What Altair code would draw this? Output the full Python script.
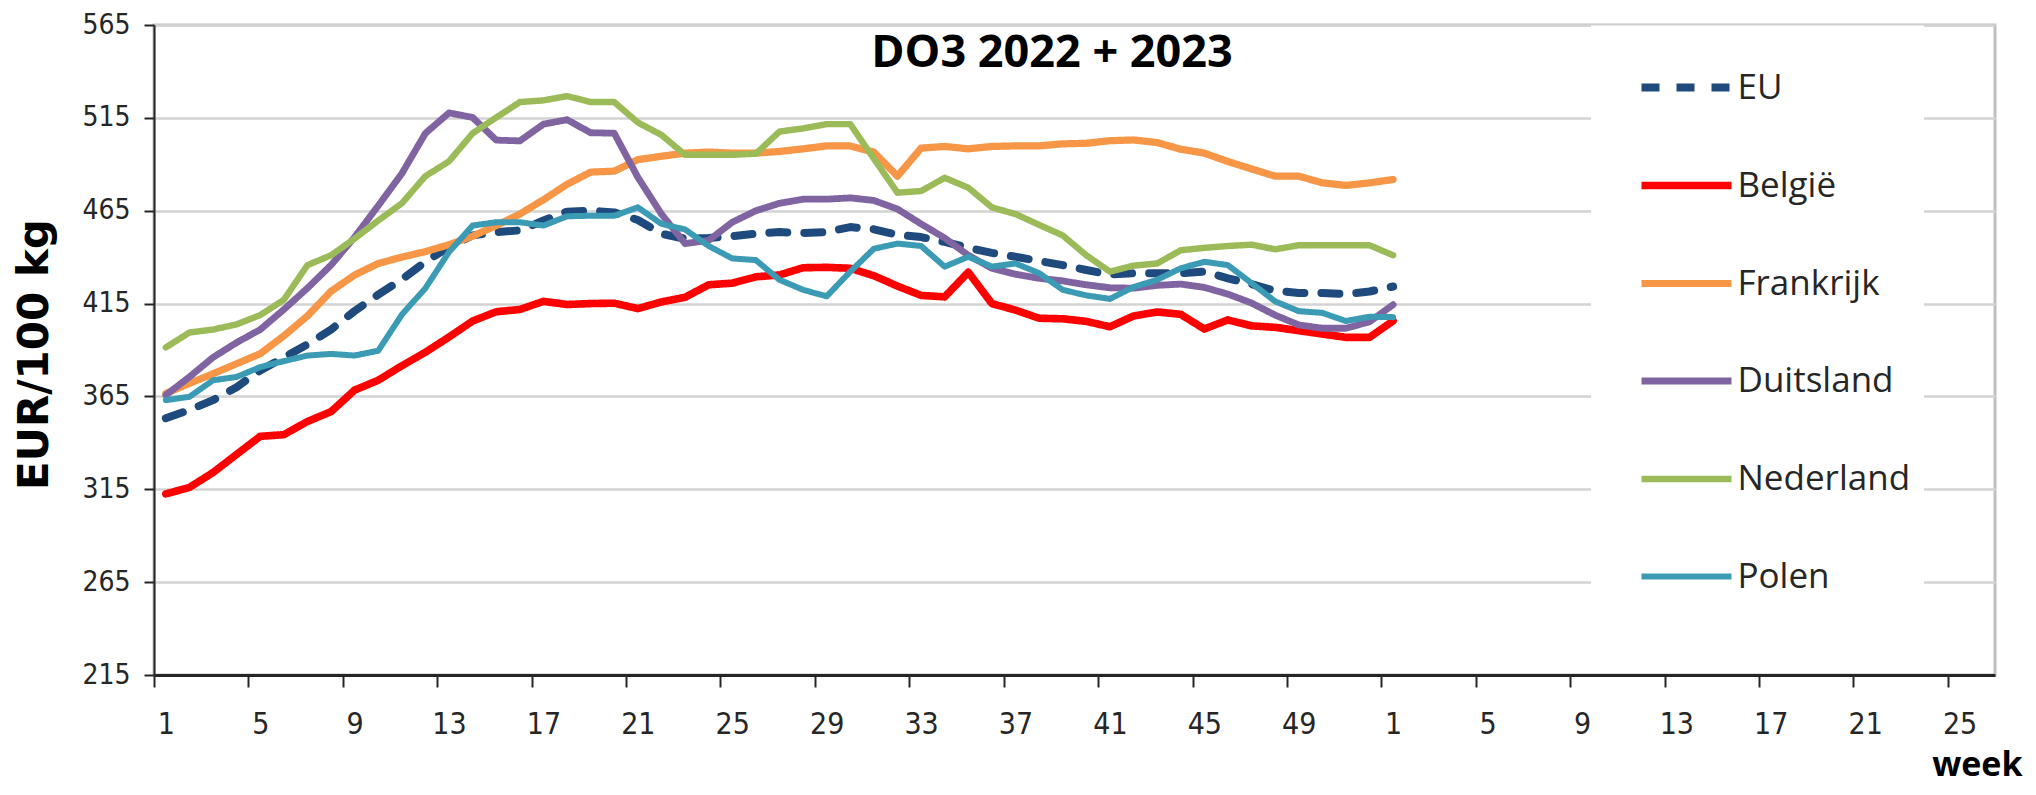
import json
import altair as alt
import pandas as pd

# ---- data (EUR/100 kg, DO3 carcass price), weeks 1..52 of 2022 + week 1 of 2023 ----
landen = ["EU", "België", "Frankrijk", "Duitsland", "Nederland", "Polen"]
kleuren = ["#1F4A7D", "#FF0000", "#F79646", "#8064A2", "#9BBB59", "#3C9BB4"]

eu = [353.3, 357.7, 363.0, 370.0, 379.0, 386.0, 393.0, 401.0, 411.0, 419.8,
      428.0, 437.5, 445.5, 451.7, 453.5, 454.4, 459.7, 464.5, 465.0, 464.1,
      460.0, 452.6, 449.9, 450.3, 451.3, 452.6, 453.5, 453.0, 453.5, 456.2,
      455.0, 452.0, 450.8, 448.2, 445.0, 442.3, 440.2, 437.9, 435.7, 433.1,
      430.6, 431.3, 431.3, 431.3, 432.2, 428.6, 425.5, 421.9, 420.7, 420.7,
      420.1, 421.5, 424.2]
belgie = [312.5, 316.0, 324.0, 333.8, 343.5, 344.4, 351.5, 356.8, 368.4, 373.7,
          381.5, 388.8, 397.0, 405.6, 410.6, 411.8, 416.2, 414.5, 415.0, 415.2,
          412.3, 415.9, 418.4, 425.1, 426.0, 429.4, 430.4, 434.3, 434.5, 434.0,
          430.0, 424.4, 419.4, 418.6, 431.9, 415.0, 411.5, 407.1, 406.8, 405.4,
          402.5, 408.3, 410.5, 409.2, 401.3, 406.2, 403.0, 402.2, 400.4, 398.6,
          396.8, 396.8, 405.7]
frankrijk = [366.6, 372.0, 377.2, 382.6, 388.0, 397.6, 408.3, 421.6, 430.4, 436.6,
             440.0, 443.0, 446.7, 451.3, 457.0, 463.2, 470.9, 479.2, 485.8, 486.3,
             492.5, 494.3, 496.0, 496.6, 496.0, 496.0, 496.9, 498.3, 499.9, 499.9,
             496.5, 483.6, 498.7, 499.6, 498.3, 499.6, 499.9, 499.9, 501.0, 501.3,
             502.7, 503.1, 501.7, 498.1, 496.0, 491.5, 487.5, 483.6, 483.6, 480.0,
             478.6, 480.0, 481.8]
duitsland = [365.7, 375.5, 386.0, 394.0, 401.0, 411.8, 423.3, 435.7, 450.8, 467.7,
             485.0, 506.7, 517.7, 515.2, 503.0, 502.6, 511.6, 514.0, 507.0, 506.7,
             483.0, 463.2, 447.3, 449.0, 458.8, 465.0, 469.0, 471.2, 471.2, 471.9,
             470.5, 465.9, 457.9, 450.3, 441.0, 434.0, 430.8, 428.6, 427.2, 425.1,
             423.5, 423.3, 424.8, 425.5, 423.7, 420.1, 415.3, 408.8, 403.5, 401.7,
             401.7, 405.2, 414.4]
nederland = [391.4, 399.4, 401.0, 403.8, 408.8, 417.0, 435.7, 441.0, 450.0, 459.7,
             469.0, 483.6, 491.6, 506.7, 515.2, 523.5, 524.4, 526.7, 523.5, 523.5,
             512.5, 505.8, 495.1, 495.1, 495.1, 495.7, 507.6, 509.3, 511.6, 511.6,
             493.0, 474.7, 475.6, 482.7, 477.4, 466.8, 463.2, 457.4, 451.7, 441.0,
             432.2, 435.4, 436.6, 443.7, 445.0, 446.0, 446.7, 444.2, 446.4, 446.4,
             446.4, 446.4, 441.0]
polen = [363.0, 364.8, 373.7, 375.5, 380.8, 384.0, 387.0, 387.9, 387.0, 389.6,
         409.0, 423.3, 442.8, 457.0, 458.8, 458.8, 457.0, 462.0, 462.3, 462.3,
         466.8, 457.9, 454.9, 446.0, 439.3, 438.4, 427.8, 422.4, 418.9, 432.2,
         444.5, 447.3, 446.0, 434.9, 440.2, 434.9, 436.6, 431.4, 422.4, 419.4,
         417.5, 423.9, 427.8, 434.0, 437.5, 435.7, 426.0, 416.2, 410.9, 410.0,
         405.6, 407.9, 407.7]

weken_2022 = list(range(1, 53))
weken_2023 = list(range(1, 27))
x_tick_labels = ["1", "5", "9", "13", "17", "21", "25", "29", "33", "37", "41", "45", "49",
                 "1", "5", "9", "13", "17", "21", "25"]
y_ticks = [215, 265, 315, 365, 415, 465, 515, 565]
titel = "DO3 2022 + 2023"

# ---- build long table ----
week_keys = [f"2022-{w}" for w in weken_2022] + [f"2023-{w}" for w in weken_2023]
n_cat = len(week_keys)
rows = []
for land, vals in zip(landen, [eu, belgie, frankrijk, duitsland, nederland, polen]):
    for i, v in enumerate(vals):
        rows.append({"land": land, "week": week_keys[i], "pos": i + 0.5, "prijs": v})
df = pd.DataFrame(rows)

W, H = 1841, 650
cat_w = W / n_cat

dashes = [[18, 17]] + [[1, 0]] * 5
widths = [8, 6, 6, 6, 6, 6]
tick_font = "Liberation Sans Narrow, DejaVu Sans Condensed, Roboto"

legend = alt.Legend(
    title=None, orient="none", legendX=1437, legendY=0.5,
    fillColor="white", strokeColor=None, padding=13, rowPadding=31,
    symbolType="stroke", symbolSize=8100, symbolStrokeWidth=7,
    symbolOffset=33.5,
    labelFont="Open Sans", labelFontSize=35, labelColor="#262626",
    labelOffset=2, labelLimit=400,
)

lines = alt.Chart(df).mark_line(strokeCap="round", strokeJoin="round").encode(
    x=alt.X("pos:Q",
            scale=alt.Scale(domain=[0, n_cat], nice=False, zero=False),
            axis=alt.Axis(
                values=list(range(0, n_cat - 1, 4)),
                labelExpr=json.dumps(x_tick_labels) + "[floor(datum.value / 4)]",
                labelOffset=cat_w / 2, labelFlush=False, labelOverlap=False,
                labelFont=tick_font,
                labelFontSize=30, labelColor="#262626", labelPadding=22,
                tickSize=12, tickWidth=2, tickColor="#262626",
                domainColor="#262626", domainWidth=3, grid=False,
                title="week", titleFont="Open Sans", titleFontSize=34, titleFontWeight="bold",
                titleColor="black", titleAlign="right", titleBaseline="alphabetic",
                titleX=1868, titleY=100, titleAngle=0,
            )),
    y=alt.Y("prijs:Q",
            scale=alt.Scale(domain=[215, 565], nice=False, zero=False),
            axis=alt.Axis(
                values=y_ticks, labelFont=tick_font,
                labelFontSize=28, labelColor="#262626", labelPadding=14,
                tickSize=10, tickWidth=2, tickColor="#262626",
                domainColor="#262626", domainWidth=2,
                grid=True, gridColor="#D3D3D3", gridWidth=2.5,
                title="EUR/100 kg", titleFont="DejaVu Sans", titleFontSize=42,
                titleFontWeight="bold", titleColor="black",
                titleX=-120, titleY=329, titleAngle=-90,
                titleAlign="center", titleBaseline="middle",
            )),
    color=alt.Color("land:N", scale=alt.Scale(domain=landen, range=kleuren), legend=legend),
    strokeDash=alt.StrokeDash("land:N", scale=alt.Scale(domain=landen, range=dashes), legend=legend),
    strokeWidth=alt.StrokeWidth("land:N", scale=alt.Scale(domain=landen, range=widths), legend=None),
    detail="land:N",
)

title_df = pd.DataFrame({"t": [titel]})
title_mark = alt.Chart(title_df).mark_text(
    font="Open Sans", fontSize=45, fontWeight="bold", color="black",
    align="center", baseline="middle",
).encode(text="t:N", x=alt.value(898), y=alt.value(28))

chart = alt.layer(lines, title_mark).properties(
    width=W, height=H,
    autosize=alt.AutoSizeParams(type="none"),
    padding={"left": 146, "top": 17, "right": 30, "bottom": 110},
    background="white",
).configure_view(stroke="#BFBFBF", strokeWidth=3)

chart.save("out.html", embed_options={"renderer": "svg", "actions": False})
